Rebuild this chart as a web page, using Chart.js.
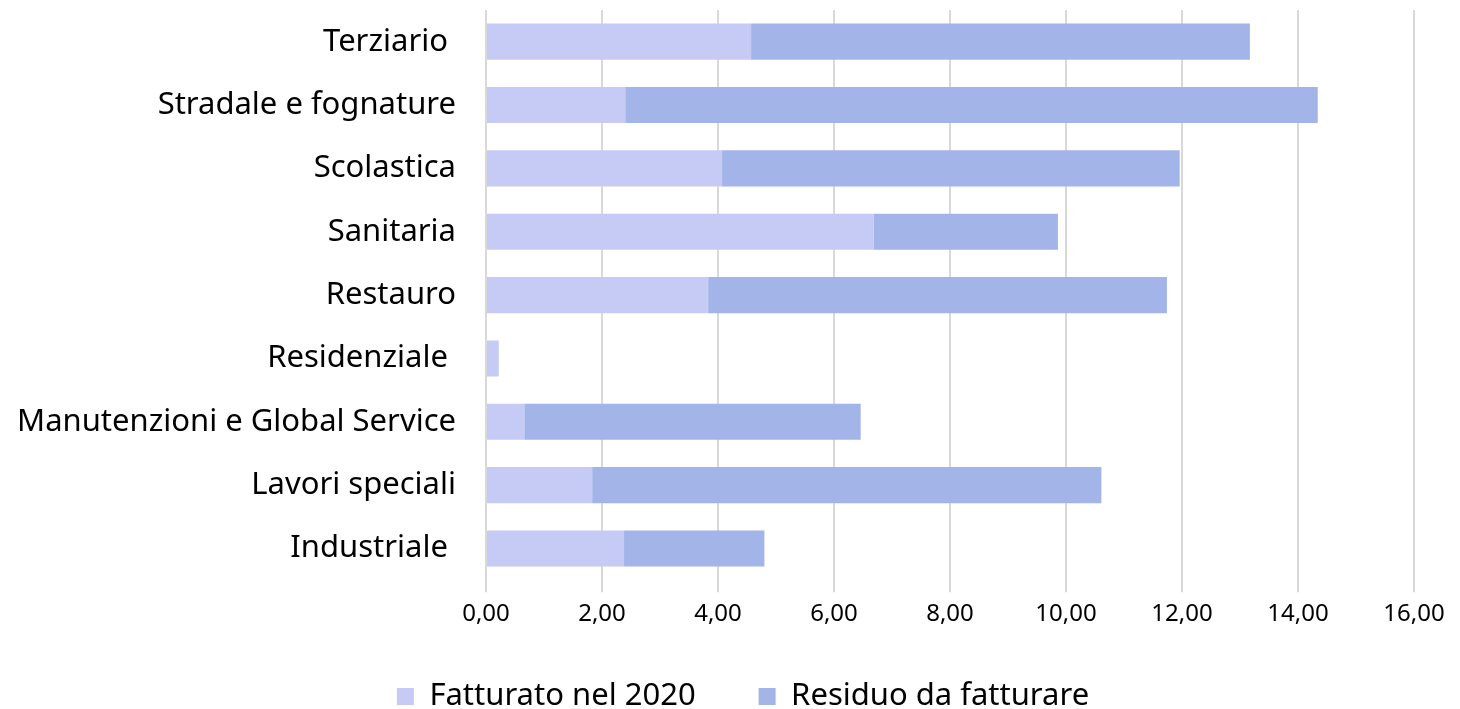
<!DOCTYPE html>
<html><head><meta charset="utf-8">
<script src="https://cdn.jsdelivr.net/npm/chart.js@4/dist/chart.umd.min.js"></script>
<style>html,body{margin:0;padding:0;background:#fff}#wrap{width:1460px;height:709px;position:relative}</style>
</head><body><div id="wrap"><canvas id="c" width="1460" height="709"></canvas></div>
<script>
const categories = ["Terziario ", "Stradale e fognature", "Scolastica", "Sanitaria", "Restauro", "Residenziale ", "Manutenzioni e Global Service", "Lavori speciali", "Industriale "];
const fatturato2020 = [4.57, 2.40, 4.07, 6.68, 3.83, 0.22, 0.66, 1.83, 2.38];
const residuo = [8.60, 11.94, 7.89, 3.18, 7.91, 0, 5.80, 8.78, 2.42];
const seriesNames = ["Fatturato nel 2020", "Residuo da fatturare"];
const xMin = 0, xMax = 16, xStep = 2;
const FONT = "'Noto Sans', sans-serif";

const legendShift = {
  id: 'legendShift',
  afterLayout(chart) { const l = chart.legend; if (l) { l.left += 62; } }
};

new Chart(document.getElementById('c'), {
  type: 'bar',
  data: {
    labels: categories,
    datasets: [
      { label: seriesNames[0], data: fatturato2020, backgroundColor: '#C5CBF5', borderWidth: 0, barPercentage: 0.57, categoryPercentage: 1 },
      { label: seriesNames[1], data: residuo, backgroundColor: '#A2B4E8', borderWidth: 0, barPercentage: 0.57, categoryPercentage: 1 }
    ]
  },
  plugins: [legendShift],
  options: {
    indexAxis: 'y',
    responsive: false,
    animation: false,
    layout: { padding: { left: 10, right: 46, top: 10, bottom: -13 } },
    plugins: {
      tooltip: { enabled: false },
      legend: {
        position: 'bottom',
        labels: {
          font: { family: FONT, size: 31 }, color: '#000', boxWidth: 17, boxHeight: 17, padding: 1,
          generateLabels: chart => {
            const items = Chart.defaults.plugins.legend.labels.generateLabels(chart);
            items.forEach((it, i) => { it.lineWidth = 0; if (i < items.length - 1) it.text = it.text + '\u2003\u2003'; });
            return items;
          }
        }
      }
    },
    scales: {
      x: {
        stacked: true, min: xMin, max: xMax,
        ticks: { stepSize: xStep, font: { family: FONT, size: 24 }, color: '#000', padding: 8,
          callback: v => v.toFixed(2).replace('.', ',') },
        grid: { color: '#D9D9D9', lineWidth: 2, tickLength: 12, drawTicks: true },
        border: { display: false },
        afterFit: s => { s.height += 43; }
      },
      y: {
        stacked: true,
        ticks: { font: { family: FONT, size: 31 }, color: '#000', padding: 30 },
        grid: { display: false, drawTicks: false },
        border: { display: false },
        afterFit: s => { s.paddingTop = 0; s.paddingBottom = 0; s.width = 476; }
      }
    }
  }
});
</script></body></html>
